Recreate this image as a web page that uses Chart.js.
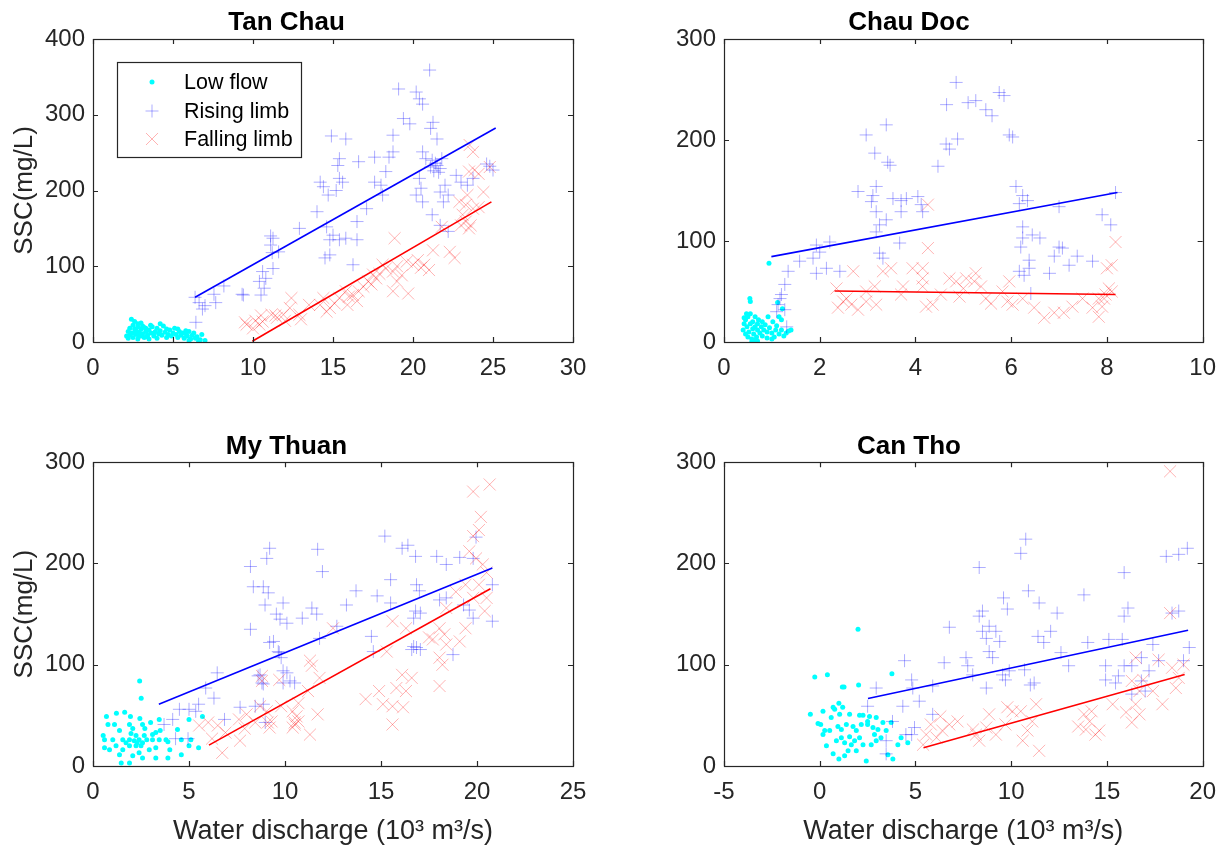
<!DOCTYPE html>
<html><head><meta charset="utf-8">
<script src="https://cdn.jsdelivr.net/npm/chart.js@4/dist/chart.umd.min.js"></script>
<style>
html,body{margin:0;padding:0;background:#fff;}
#wrap{position:relative;width:1228px;height:850px;background:#fff;}
canvas{position:absolute;}
</style></head><body>
<div id="wrap">
<canvas id="c1" width="614" height="425" style="left:0;top:0"></canvas>
<canvas id="c2" width="614" height="425" style="left:614px;top:0"></canvas>
<canvas id="c3" width="614" height="425" style="left:0;top:425px"></canvas>
<canvas id="c4" width="614" height="425" style="left:614px;top:425px"></canvas>
</div>
<script>
// ---------- Data ----------
const seriesLabels = ['Low flow', 'Rising limb', 'Falling limb'];
const panelTitles = ['Tan Chau', 'Chau Doc', 'My Thuan', 'Can Tho'];
const yAxisTitle = 'SSC(mg/L)';
const xAxisTitle = 'Water discharge (10\u00B3 m\u00B3/s)';

const tanChauXTicks = [0, 5, 10, 15, 20, 25, 30];
const tanChauYTicks = [0, 100, 200, 300, 400];
const chauDocXTicks = [0, 2, 4, 6, 8, 10];
const chauDocYTicks = [0, 100, 200, 300];
const myThuanXTicks = [0, 5, 10, 15, 20, 25];
const myThuanYTicks = [0, 100, 200, 300];
const canThoXTicks = [-5, 0, 5, 10, 15, 20];
const canThoYTicks = [0, 100, 200, 300];

const tanChauLow = [[2.1,8],[2.2,14],[2.3,18],[2.4,12],[2.5,22],[2.5,6],[2.6,27],[2.7,15],[2.7,10],[2.8,20],[2.9,8],[2.9,13],[3.0,25],[3.0,17],[3.1,11],[3.2,6],[3.2,19],[3.3,14],[3.4,9],[3.5,16],[3.5,4],[3.6,12],[3.7,20],[3.8,8],[3.9,14],[4.0,5],[4.0,18],[4.1,11],[4.2,15],[4.3,9],[4.4,21],[4.5,13],[4.6,6],[4.7,10],[4.8,16],[4.9,8],[5.0,12],[5.1,18],[5.2,10],[5.3,6],[5.4,14],[5.5,9],[5.6,12],[5.7,5],[5.8,11],[5.9,8],[6.0,14],[6.1,4],[6.2,9],[6.3,12],[6.5,7],[6.7,3],[6.8,10],[7.0,2],[2.3,9],[2.6,17],[2.8,24],[3.1,21],[3.4,7],[2.4,30],[2.8,4],[3.6,22],[4.2,24],[5.3,17],[6.0,2],[6.6,1],[2.2,5],[2.6,12],[3.0,8],[3.3,18],[3.8,12],[4.6,17],[5.8,15],[6.4,5]];
const tanChauRise = [[21.04,359],[19.1,334],[20.2,330],[20.4,321],[20.6,314],[19.4,295],[19.8,288],[21.25,290],[21.1,282],[21.5,268],[14.9,272],[15.8,268],[18.75,273],[15.4,242],[15.3,233],[16.6,238],[17.6,244],[18.5,244],[18.75,251],[20.6,251],[20.8,242],[21.1,231],[21.5,233],[21.7,229],[21.8,242],[20.4,216],[20.5,203],[20.2,194],[20.6,185],[14.2,211],[14.4,205],[14.7,194],[15.4,216],[15.6,211],[15.2,200],[17.6,211],[18.0,207],[18.1,194],[18.3,225],[22.0,207],[21.7,198],[22.2,194],[22.7,220],[23.0,211],[23.4,207],[23.75,216],[24.6,235],[25.0,227],[24.8,232],[21.9,185],[21.2,168],[21.7,154],[22.2,146],[14.0,172],[12.9,150],[14.6,152],[16.5,159],[15.0,141],[14.8,135],[15.4,135],[15.8,137],[16.5,135],[17.1,176],[16.25,102],[14.8,115],[14.5,111],[11.25,137],[11.1,128],[11.6,119],[10.6,93],[10.8,84],[11.25,97],[10.4,80],[9.4,62],[10.5,62],[10.7,71],[6.38,59],[6.63,52],[6.84,43.5],[6.43,26],[7.56,63],[7.67,52],[8.18,74],[9.32,63],[7.0,48],[11.2,118],[11.1,140],[21.3,226],[21.4,236],[21.6,224],[21.2,240]];
const tanChauFall = [[23.54,260],[23.75,251],[24.4,198],[23.5,225],[23.85,227],[24.1,222],[24.8,231],[23.4,194],[22.9,185],[23.3,181],[23.75,176],[24.1,178],[23.1,168],[23.3,159],[23.0,154],[23.5,150],[23.6,154],[21.8,152],[18.85,137],[22.3,119],[22.6,111],[21.25,121],[20.3,108],[20.7,102],[21.0,95],[20.0,102],[19.6,106],[19.0,100],[18.75,93],[19.0,80],[18.75,67],[19.7,64],[18.1,102],[18.3,97],[17.5,89],[17.7,84],[17.2,80],[16.9,73],[16.6,67],[16.25,62],[15.8,67],[15.4,58],[15.1,51],[14.8,45],[14.2,49],[13.5,49],[12.9,36],[12.4,58],[12.3,45],[11.9,36],[11.5,32],[11.15,36],[10.6,27],[10.4,23],[10.0,18],[9.6,23],[16.5,54],[15.9,49],[14.4,58],[9.5,26],[10.15,28],[10.5,35],[11.4,35],[17.9,90],[17.4,76],[16.0,60],[13.0,30],[12.0,28],[14.6,40],[19.3,88],[20.5,98]];
const tanChauRiseFit = [[6.38,59],[25.17,282.5]];
const tanChauFallFit = [[9.96,1],[24.9,185]];

const chauDocLow = [[0.94,78],[0.54,43],[0.55,40],[0.4,12],[0.42,18],[0.45,8],[0.45,22],[0.48,15],[0.5,5],[0.5,25],[0.52,10],[0.55,18],[0.55,28],[0.58,3],[0.6,13],[0.6,20],[0.62,8],[0.65,25],[0.65,15],[0.68,5],[0.7,18],[0.7,12],[0.72,22],[0.75,9],[0.78,15],[0.8,6],[0.8,20],[0.83,12],[0.86,17],[0.9,10],[0.92,25],[0.95,14],[1.0,9],[1.02,20],[1.05,5],[1.08,12],[1.1,16],[1.15,8],[1.15,25],[1.2,12],[1.2,22],[1.22,33],[1.25,6],[1.3,9],[1.35,11],[1.4,12],[1.12,39],[0.7,1],[0.58,0],[0.47,28],[0.42,24],[0.63,2],[0.9,4],[1.0,3]];
const chauDocRise = [[4.85,257],[5.75,247],[5.85,244],[4.65,235],[5.1,237],[5.26,239],[5.47,230],[5.6,224],[3.39,215],[2.97,205],[5.96,205],[6.03,203],[4.64,196],[4.71,191],[4.88,201],[3.15,187],[3.42,178],[3.47,175],[4.47,174],[2.8,149],[3.18,154],[3.11,145],[3.08,139],[3.18,129],[3.53,142],[3.7,140],[3.81,142],[4.05,144],[4.12,136],[4.15,129],[3.7,129],[3.39,121],[3.25,116],[3.18,109],[3.67,98],[3.25,88],[3.32,83],[6.1,154],[6.24,145],[6.17,137],[6.34,140],[7.0,134],[7.9,126],[8.08,116],[8.18,148],[6.24,114],[6.24,103],[6.2,94],[6.44,106],[6.6,103],[6.375,81],[6.17,70],[6.27,66],[6.375,73],[6.8,68],[6.41,48],[6.9,85],[7.0,94],[7.07,93],[7.38,85],[7.21,76],[7.7,80],[1.93,96],[2.0,89],[2.21,99],[1.86,83],[2.14,73],[1.93,68],[2.42,70],[1.58,80],[1.34,70],[1.27,57],[1.2,47],[1.13,37],[1.27,32],[1.1,30],[1.31,15],[1.17,43]];
const chauDocFall = [[8.18,99],[8.1,76],[8.0,73],[4.26,136],[4.26,93],[2.7,70],[3.32,70],[3.49,73],[3.94,73],[4.15,73],[4.15,63],[4.15,55],[3.15,55],[2.97,50],[3.74,55],[4.71,63],[4.85,60],[5.06,63],[5.23,60],[5.26,68],[5.0,53],[4.92,45],[4.53,47],[4.36,37],[4.22,35],[3.7,47],[3.18,37],[2.97,40],[2.8,32],[2.66,37],[2.49,40],[2.38,34],[2.56,43],[2.35,53],[5.92,40],[6.03,37],[5.96,60],[6.24,43],[6.48,34],[6.69,24],[6.9,29],[7.1,29],[7.28,35],[7.49,43],[7.7,34],[7.83,25],[7.9,35],[7.97,47],[8.04,53],[8.1,50],[7.94,43],[7.83,43],[5.82,50],[5.58,38],[5.47,43],[5.37,55]];
const chauDocRiseFit = [[0.99,84.5],[8.22,148]];
const chauDocFallFit = [[2.31,50.5],[8.18,47]];

const myThuanLow = [[2.43,84],[2.51,67],[0.7,49],[1.22,52],[1.65,53],[1.95,49],[2.44,47],[3.0,43],[0.78,41],[0.53,30],[0.6,26],[1.03,26],[1.38,35],[1.55,26],[1.9,41],[2.07,37],[1.98,32],[2.24,30],[2.4,26],[2.58,23],[2.24,20],[1.9,20],[1.55,16],[1.2,20],[0.86,16],[0.6,18],[2.4,13],[2.07,10],[2.58,8],[1.47,3],[1.9,3],[3.27,8],[2.93,16],[3.27,18],[3.45,26],[3.27,33],[3.5,35],[3.1,26],[3.9,24],[4.0,16],[3.9,8],[4.6,11],[5.0,20],[5.1,26],[4.6,26],[4.4,36],[5.0,46],[5.7,49],[5.5,18],[2.8,26],[2.7,37],[2.58,41],[1.9,26],[1.72,23],[2.15,25],[2.3,23],[2.5,20],[2.67,30],[3.1,31],[3.45,46],[3.8,26],[1.38,11],[1.12,41]];
const myThuanRise = [[15.2,227],[16.4,218],[16.1,215],[16.8,207],[17.9,207],[18.4,199],[19.1,206],[19.8,205],[19.95,226],[9.2,215],[9.05,205],[8.2,197],[11.7,214],[11.95,192],[8.35,177],[8.87,177],[9.13,171],[8.96,159],[9.9,161],[9.55,150],[9.74,145],[10.1,141],[10.9,146],[11.4,156],[11.65,150],[8.2,135],[9.4,123],[9.65,113],[9.8,107],[8.7,90],[8.87,81],[9.9,94],[10.26,84],[10.5,82],[8.87,61],[7.66,58],[13.2,159],[13.7,173],[14.8,168],[15.5,184],[15.5,161],[14.5,128],[14.6,113],[12.7,138],[11.8,126],[16.85,179],[17.0,173],[16.8,153],[17.05,151],[16.7,146],[16.7,118],[16.6,115],[16.85,117],[17.05,115],[18.75,110],[19.3,159],[19.8,146],[19.6,154],[20.8,179],[20.8,143],[18.05,164],[18.4,166],[6.47,92],[5.87,77],[5.0,56],[5.35,54],[5.5,61],[4.5,56],[4.15,46],[3.7,41],[4.95,27],[4.3,27],[6.3,67],[6.85,46],[8.6,89],[8.8,82],[9.2,122],[9.7,112],[10.1,92],[9.9,82],[8.45,59],[8.97,43]];
const myThuanFall = [[20.66,278],[19.8,271],[20.2,246],[20.1,233],[19.8,227],[19.6,212],[19.95,205],[20.3,199],[20.5,191],[19.4,179],[20.1,179],[19.8,166],[20.5,166],[20.4,153],[18.9,172],[18.4,156],[18.05,136],[18.3,130],[18.4,120],[18.05,107],[18.2,100],[18.05,79],[17.5,127],[17.7,125],[19.1,123],[19.4,136],[16.3,136],[15.6,143],[15.3,113],[16.1,90],[16.6,87],[15.8,77],[15.6,59],[16.15,58],[14.9,74],[15.1,61],[14.2,66],[15.6,41],[16.3,74],[12.5,136],[11.3,104],[11.4,99],[11.8,87],[11.2,74],[11.7,51],[10.4,54],[10.7,44],[10.5,41],[11.3,31],[9.3,44],[9.05,54],[8.7,59],[8.0,51],[7.66,25],[8.8,84],[9.2,38],[5.53,40],[6.0,43],[6.5,40],[6.2,27],[6.73,13],[6.9,33],[7.6,46],[7.9,37],[8.45,43],[8.8,89],[9.1,43],[9.8,59],[10.5,43],[10.4,38],[10.6,49],[9.7,85],[10.7,62]];
const myThuanRiseFit = [[3.43,61],[20.8,195.5]];
const myThuanFallFit = [[6.04,20.6],[20.7,175]];

const canThoLow = [[2.0,135],[-0.26,88],[0.4,90],[1.18,78],[1.27,78],[2.03,80],[3.77,91],[-0.49,51],[-0.09,42],[0.05,41],[0.17,54],[0.7,58],[0.78,56],[1.0,62],[1.2,58],[1.04,51],[1.56,51],[2.08,50],[2.26,50],[2.6,49],[2.95,48],[3.3,43],[3.73,43],[0.26,35],[0.17,31],[0.52,35],[0.95,39],[1.13,36],[1.39,41],[1.74,39],[2.17,41],[2.5,41],[2.78,38],[3.04,36],[3.47,35],[0.35,20],[0.7,12],[1.0,7],[0.87,25],[1.13,28],[1.3,23],[1.56,29],[1.82,25],[2.08,28],[2.26,21],[1.91,15],[1.48,15],[1.3,10],[2.43,5],[2.86,31],[2.69,21],[2.95,25],[3.2,28],[4.25,28],[4.08,21],[4.6,23],[3.56,11],[3.82,7],[1.91,35],[1.65,21],[0.6,48],[2.5,44]];
const canThoRise = [[10.76,224],[10.5,210],[8.33,196],[15.9,191],[18.1,207],[18.75,209],[19.2,215],[10.9,173],[13.8,169],[9.6,166],[11.46,161],[9.8,155],[8.5,153],[8.33,148],[12.4,151],[16.1,156],[15.9,148],[18.75,153],[18.4,151],[6.77,137],[8.5,133],[8.7,126],[9.2,133],[8.85,138],[9.4,123],[8.85,113],[9.03,107],[11.4,128],[11.7,122],[12.06,133],[14.0,122],[15.1,125],[15.8,125],[17.4,120],[19.3,117],[13.0,99],[12.6,112],[14.93,99],[15.9,99],[16.3,99],[16.8,107],[17.2,94],[17.7,104],[19.0,104],[14.93,85],[15.45,82],[15.6,89],[16.8,84],[17.0,74],[16.3,71],[4.43,104],[6.5,102],[7.64,107],[7.73,99],[7.99,90],[8.7,77],[9.55,90],[9.7,85],[9.9,94],[10.7,95],[11.0,80],[11.2,82],[4.8,85],[4.86,77],[5.9,79],[5.2,64],[2.95,77],[2.5,59],[4.34,59],[3.8,44],[4.95,38],[5.9,51],[4.5,31],[3.47,25],[3.47,12],[4.8,31]];
const canThoFall = [[18.3,291],[18.3,151],[16.5,107],[17.7,105],[18.4,97],[19.0,100],[18.75,87],[18.6,77],[17.9,61],[17.4,74],[16.7,74],[16.5,61],[16.7,51],[16.3,43],[16.0,53],[16.9,85],[16.3,84],[15.3,61],[14.6,35],[14.4,31],[14.1,44],[13.8,51],[13.9,36],[13.5,39],[14.2,54],[11.46,15],[11.3,61],[11.1,44],[10.85,35],[10.6,25],[10.5,54],[10.07,54],[9.8,58],[9.7,41],[9.2,31],[8.7,38],[8.85,51],[8.33,25],[8.16,31],[8.0,36],[7.2,44],[6.77,41],[6.4,35],[6.1,28],[5.56,31],[5.4,21],[5.8,41],[6.3,49]];
const canThoRiseFit = [[2.52,66.7],[19.24,134]];
const canThoFallFit = [[5.42,18],[19.06,90.4]];

// ---------- Rendering ----------
const FONT = '"Liberation Sans", Arial, Helvetica, sans-serif';
const AXIS_COLOR = '#262626';
const toPts = arr => arr.map(p => ({x: p[0], y: p[1]}));

const axesBox = {
  id: 'axesBox',
  afterDraw(chart) {
    const {ctx, chartArea: a, scales: {x, y}} = chart;
    ctx.save();
    ctx.strokeStyle = AXIS_COLOR;
    ctx.lineWidth = 1.2;
    ctx.strokeRect(Math.round(a.left) + 0.5, Math.round(a.top) + 0.5, Math.round(a.right - a.left), Math.round(a.bottom - a.top));
    const L = 5;
    ctx.beginPath();
    x.ticks.forEach(t => {
      const px = Math.round(x.getPixelForValue(t.value)) + 0.5;
      ctx.moveTo(px, a.bottom); ctx.lineTo(px, a.bottom - L);
      ctx.moveTo(px, a.top); ctx.lineTo(px, a.top + L);
    });
    y.ticks.forEach(t => {
      const py = Math.round(y.getPixelForValue(t.value)) + 0.5;
      ctx.moveTo(a.left, py); ctx.lineTo(a.left + L, py);
      ctx.moveTo(a.right, py); ctx.lineTo(a.right - L, py);
    });
    ctx.stroke();
    ctx.restore();
  }
};

function drawMarker(ctx, ds, cx, cy) {
  ctx.save();
  if (ds.pointStyle === 'circle') {
    ctx.fillStyle = ds.backgroundColor;
    ctx.beginPath(); ctx.arc(cx, cy, ds.pointRadius, 0, Math.PI * 2); ctx.fill();
  } else {
    ctx.strokeStyle = ds.borderColor; ctx.lineWidth = ds.borderWidth;
    const r = ds.pointStyle === 'crossRot' ? ds.pointRadius * Math.SQRT1_2 : ds.pointRadius;
    ctx.beginPath();
    if (ds.pointStyle === 'crossRot') {
      ctx.moveTo(cx - r, cy - r); ctx.lineTo(cx + r, cy + r);
      ctx.moveTo(cx - r, cy + r); ctx.lineTo(cx + r, cy - r);
    } else {
      ctx.moveTo(cx - r, cy); ctx.lineTo(cx + r, cy);
      ctx.moveTo(cx, cy - r); ctx.lineTo(cx, cy + r);
    }
    ctx.stroke();
  }
  ctx.restore();
}

const legendBox = {
  id: 'legendBox',
  afterDraw(chart, args, opts) {
    if (!opts || !opts.show) return;
    const {ctx, chartArea: a} = chart;
    const bx = a.left + 24, by = a.top + 23, bw = 184, bh = 95;
    ctx.save();
    ctx.fillStyle = '#fff';
    ctx.fillRect(bx, by, bw, bh);
    ctx.strokeStyle = AXIS_COLOR; ctx.lineWidth = 1.2;
    ctx.strokeRect(bx + 0.5, by + 0.5, bw, bh);
    ctx.font = '21.5px ' + FONT;
    ctx.fillStyle = '#000';
    ctx.textBaseline = 'middle';
    ctx.textAlign = 'left';
    const rows = [by + 20, by + 49, by + 77];
    chart.data.datasets.slice(0, 3).forEach((ds, i) => {
      drawMarker(ctx, ds, bx + 35, rows[i]);
      ctx.fillText(ds.label, bx + 67, rows[i] + 1);
    });
    ctx.restore();
  }
};

function makeChart(id, p) {
  return new Chart(document.getElementById(id), {
    type: 'scatter',
    data: {
      datasets: [
        {label: seriesLabels[0], data: toPts(p.low), pointStyle: 'circle', pointRadius: 2.5, backgroundColor: '#00FFFF', borderWidth: 0, order: 5},
        {label: seriesLabels[1], data: toPts(p.rise), pointStyle: 'cross', pointRadius: 6.5, borderColor: 'rgba(0,0,255,0.32)', backgroundColor: 'rgba(0,0,255,0.32)', borderWidth: 1, order: 4},
        {label: seriesLabels[2], data: toPts(p.fall), pointStyle: 'crossRot', pointRadius: 8.5, borderColor: 'rgba(255,0,0,0.3)', backgroundColor: 'rgba(255,0,0,0.3)', borderWidth: 1, order: 3},
        {label: 'Rising limb fit', data: toPts(p.riseFit), showLine: true, pointRadius: 0, borderColor: '#0000FF', borderWidth: 1.6, order: 2},
        {label: 'Falling limb fit', data: toPts(p.fallFit), showLine: true, pointRadius: 0, borderColor: '#FF0000', borderWidth: 1.6, order: 1}
      ]
    },
    options: {
      responsive: false,
      animation: false,
      devicePixelRatio: 1,
      events: [],
      layout: {padding: {left: 0, right: p.padRight, top: 0, bottom: 0}},
      plugins: {
        legend: {display: false},
        tooltip: {enabled: false},
        title: {display: true, text: p.title, color: '#000', font: {family: FONT, size: 26, weight: 'bold', lineHeight: 1.2}, padding: p.titlePad},
        legendBox: {show: !!p.legend}
      },
      scales: {
        x: {
          type: 'linear', min: p.xTicks[0], max: p.xTicks[p.xTicks.length - 1],
          afterBuildTicks: s => { s.ticks = p.xTicks.map(v => ({value: v})); },
          afterFit: s => { s.height = p.xHeight; },
          grid: {display: false, drawTicks: false, tickLength: 0},
          border: {display: false},
          ticks: {color: AXIS_COLOR, font: {family: FONT, size: 24}, padding: 12, maxRotation: 0, autoSkip: false},
          title: {display: !!p.xTitle, text: xAxisTitle, color: AXIS_COLOR, font: {family: FONT, size: 27}, padding: {top: 0, bottom: 2}}
        },
        y: {
          type: 'linear', min: p.yTicks[0], max: p.yTicks[p.yTicks.length - 1],
          afterBuildTicks: s => { s.ticks = p.yTicks.map(v => ({value: v})); },
          afterFit: s => { s.width = p.yWidth; },
          grid: {display: false, drawTicks: false, tickLength: 0},
          border: {display: false},
          ticks: {color: AXIS_COLOR, font: {family: FONT, size: 24}, padding: 8, autoSkip: false},
          title: {display: !!p.yTitle, text: yAxisTitle, color: AXIS_COLOR, font: {family: FONT, size: 26}, padding: {top: 9, bottom: 0}}
        }
      }
    },
    plugins: [axesBox, legendBox]
  });
}

makeChart('c1', {title: panelTitles[0], low: tanChauLow, rise: tanChauRise, fall: tanChauFall, riseFit: tanChauRiseFit, fallFit: tanChauFallFit,
  xTicks: tanChauXTicks, yTicks: tanChauYTicks, yWidth: 93, padRight: 41, xHeight: 83, titlePad: {top: 7, bottom: 0.8}, yTitle: true, xTitle: false, legend: true});
makeChart('c2', {title: panelTitles[1], low: chauDocLow, rise: chauDocRise, fall: chauDocFall, riseFit: chauDocRiseFit, fallFit: chauDocFallFit,
  xTicks: chauDocXTicks, yTicks: chauDocYTicks, yWidth: 110, padRight: 24, xHeight: 83, titlePad: {top: 7, bottom: 0.8}, yTitle: false, xTitle: false});
makeChart('c3', {title: panelTitles[2], low: myThuanLow, rise: myThuanRise, fall: myThuanFall, riseFit: myThuanRiseFit, fallFit: myThuanFallFit,
  xTicks: myThuanXTicks, yTicks: myThuanYTicks, yWidth: 93, padRight: 41, xHeight: 84, titlePad: {top: 6, bottom: 0}, yTitle: true, xTitle: true});
makeChart('c4', {title: panelTitles[3], low: canThoLow, rise: canThoRise, fall: canThoFall, riseFit: canThoRiseFit, fallFit: canThoFallFit,
  xTicks: canThoXTicks, yTicks: canThoYTicks, yWidth: 110, padRight: 24, xHeight: 84, titlePad: {top: 6, bottom: 0}, yTitle: false, xTitle: true});
</script>
</body></html>
